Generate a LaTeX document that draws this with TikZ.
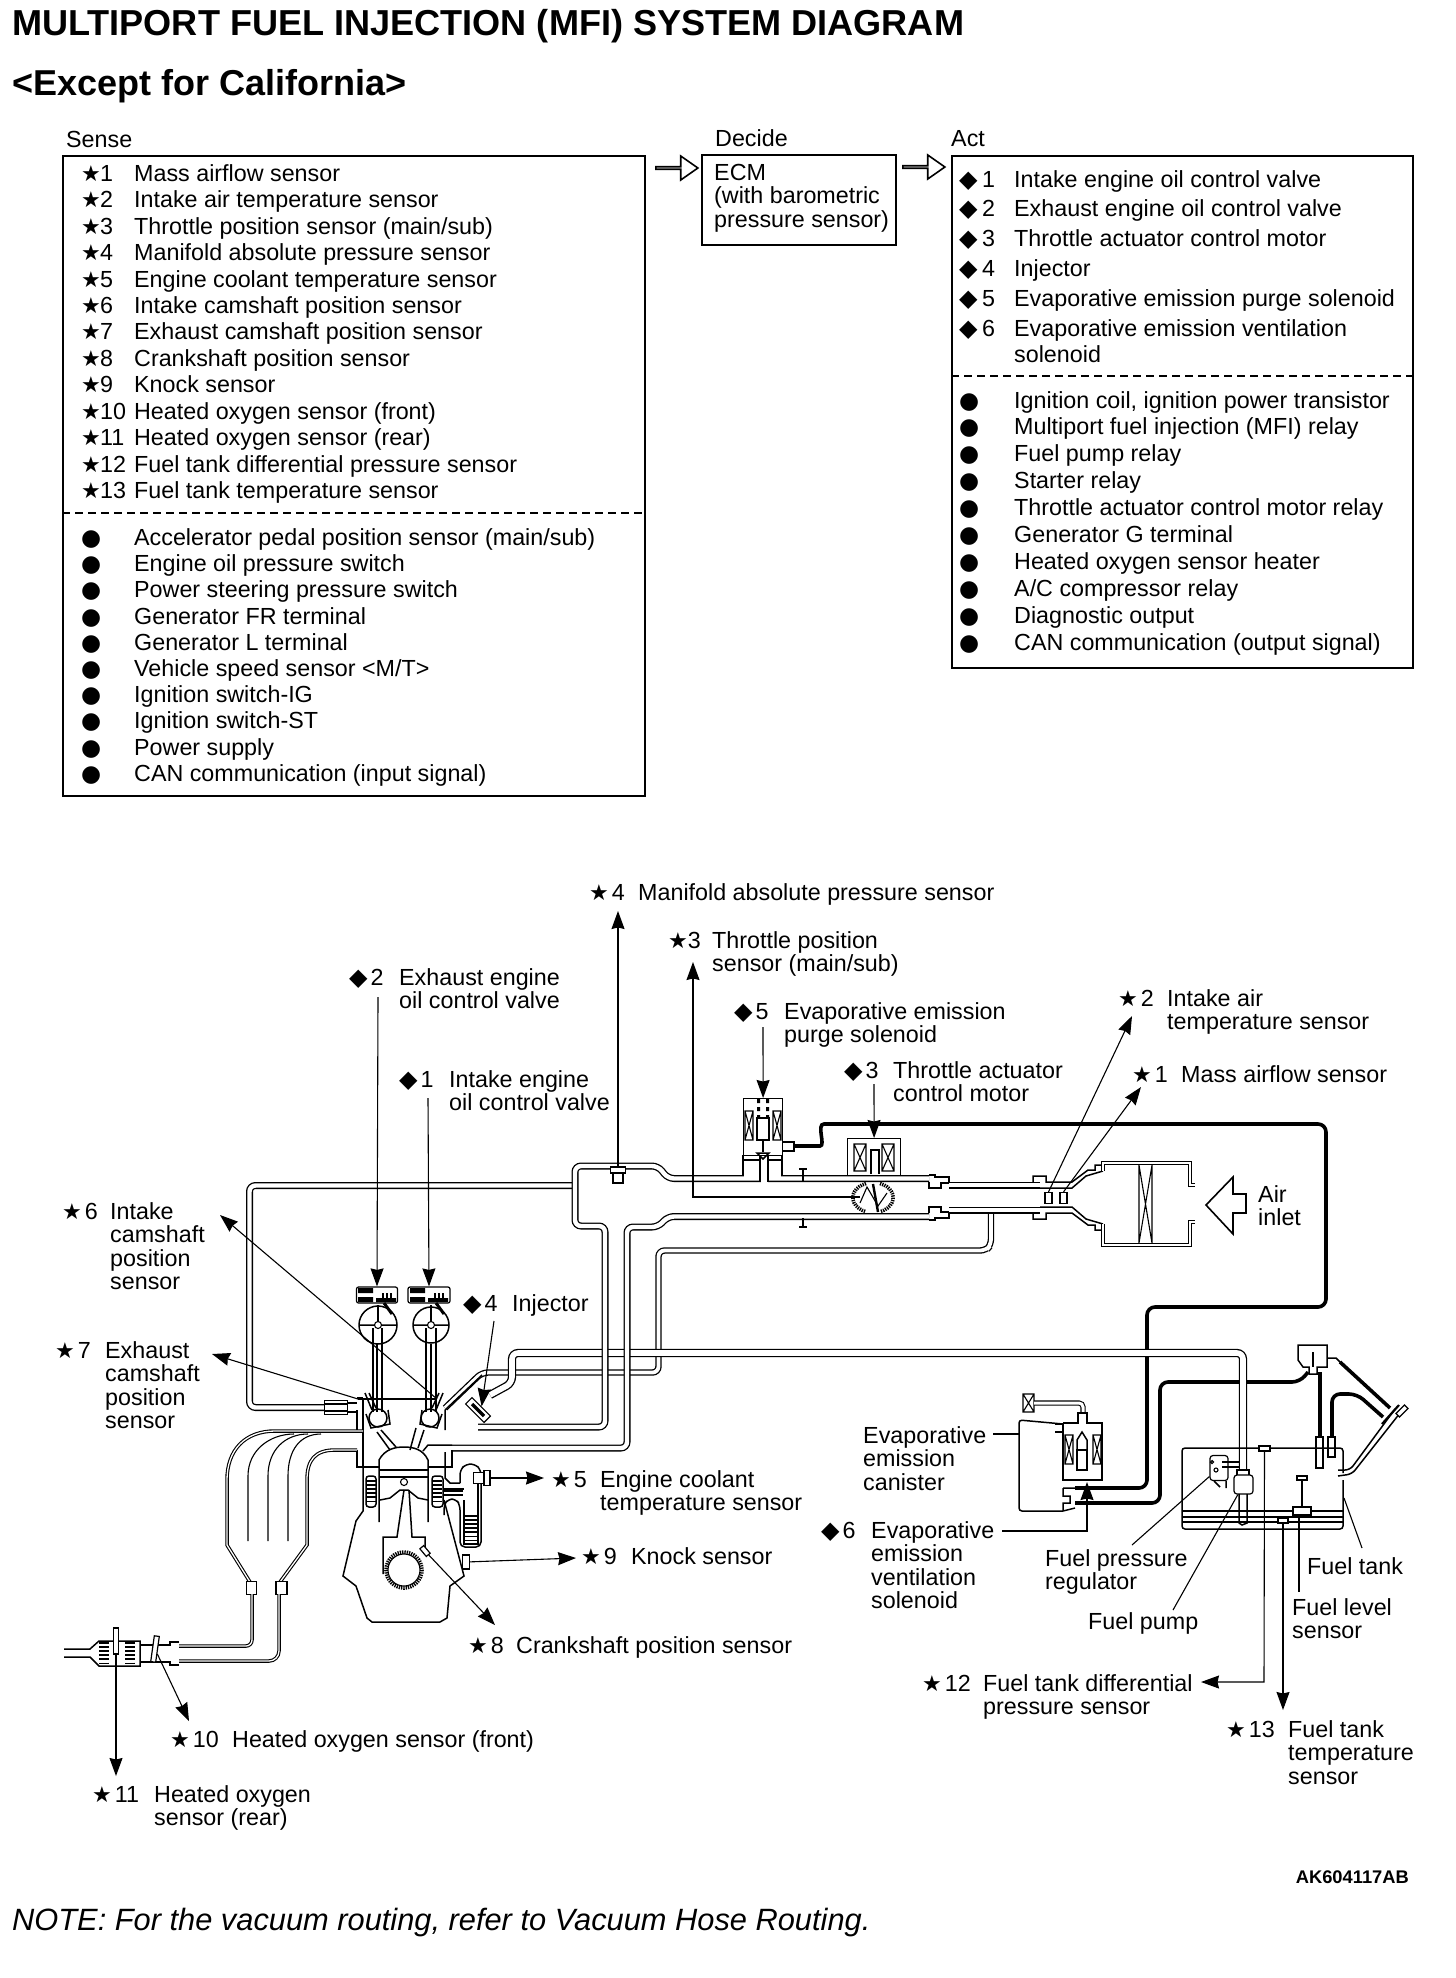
\documentclass[tikz,border=0pt]{standalone}
\usepackage{fontspec}
\setmainfont{Liberation Sans}
\newfontfamily\symfont{DejaVu Sans}
\usepackage{array}
\usetikzlibrary{arrows.meta,shapes.arrows}
\newcommand{\starmark}{{\symfont\fontsize{22}{22}\selectfont ★}}
\newcommand{\diamark}{{\symfont\fontsize{24}{24}\selectfont ◆}}
\newcommand{\dotmark}{{\symfont\fontsize{23}{23}\selectfont ●}}
\newcommand{\xcoil}[4]{\draw[thin line] (#1,#2) rectangle (#3,#4) (#1,#2)--(#3,#4) (#1,#4)--(#3,#2);}

\begin{document}
\begin{tikzpicture}[
    x=1pt, y=-1pt,
    frame/.style={draw, line width=1.8pt, anchor=north west, inner sep=0pt},
    rows/.style={anchor=north west, inner sep=0pt},
    head/.style={anchor=west, inner sep=0pt, font=\fontsize{23.3}{26}\selectfont},
    lab/.style={anchor=north west, inner sep=0pt, yshift=9pt, align=left, font=\fontsize{23.3}{23.6}\selectfont},
    tagmark/.style={lab, yshift=-1.5pt},
    hollow/.style={draw, fill=white, line width=1.6pt, single arrow, inner sep=0pt, single arrow head extend=7pt, single arrow tip angle=70, minimum width=24pt},
    thin line/.style={line width=1.1pt},
    wall/.style={line width=1.5pt},
    pipe/.style={double, double distance=4.4pt, line width=1.3pt, rounded corners=6pt},
    skin/.style={double, double distance=1.3pt, line width=1.1pt},
    hose/.style={line width=3.6pt, rounded corners=8pt},
    part/.style={draw, fill=white, line width=1.2pt, inner sep=0pt},
    lead/.style={-{Stealth[length=18pt,width=13pt,inset=1.5pt]}, line width=1.1pt},
    ribs/.style={line width=#1, dash pattern=on 1.5pt off 2.6pt},
    teeth/.style={line width=3.6pt, dash pattern=on 1.3pt off 1pt}
]
\useasboundingbox (0,0) rectangle (1456,1978);

% titles
\node[anchor=west, inner sep=0pt, font=\bfseries\fontsize{36.1}{38}\selectfont] (title) at (12,26) {MULTIPORT FUEL INJECTION (MFI) SYSTEM DIAGRAM};
\node[anchor=west, inner sep=0pt, font=\bfseries\fontsize{36}{38}\selectfont] (subtitle) at (12,86) {<Except for California>};
\node[head] (sensehead) at (66,139) {Sense};
\node[head] (decidehead) at (715,138) {Decide};
\node[head] (acthead) at (951,139) {Act};

% sense box
\node[frame, minimum width=582pt, minimum height=640pt] (sensebox) at (62,155) {};
\coordinate (sensel) at (62,513);
\coordinate (senser) at (644,513);
\draw[line width=1.6pt, dash pattern=on 8pt off 5pt] (sensel) -- (senser);
\node[rows, font=\fontsize{23.3}{26.45}\selectfont] (senseup) at (81,162.5) {\begin{tabular}{@{}p{19pt}@{}p{34pt}@{}l@{}}
\starmark&1&Mass airflow sensor\\
\starmark&2&Intake air temperature sensor\\
\starmark&3&Throttle position sensor (main/sub)\\
\starmark&4&Manifold absolute pressure sensor\\
\starmark&5&Engine coolant temperature sensor\\
\starmark&6&Intake camshaft position sensor\\
\starmark&7&Exhaust camshaft position sensor\\
\starmark&8&Crankshaft position sensor\\
\starmark&9&Knock sensor\\
\starmark&10&Heated oxygen sensor (front)\\
\starmark&11&Heated oxygen sensor (rear)\\
\starmark&12&Fuel tank differential pressure sensor\\
\starmark&13&Fuel tank temperature sensor
\end{tabular}};
\node[rows, font=\fontsize{23.3}{26.2}\selectfont] (senselow) at (81,527) {\begin{tabular}{@{}p{53pt}@{}l@{}}
\dotmark&Accelerator pedal position sensor (main/sub)\\
\dotmark&Engine oil pressure switch\\
\dotmark&Power steering pressure switch\\
\dotmark&Generator FR terminal\\
\dotmark&Generator L terminal\\
\dotmark&Vehicle speed sensor <M/T>\\
\dotmark&Ignition switch-IG\\
\dotmark&Ignition switch-ST\\
\dotmark&Power supply\\
\dotmark&CAN communication (input signal)
\end{tabular}};

% decide box
\node[frame, minimum width=194pt, minimum height=90pt] (ecmbox) at (701,154) {};
\node[rows, align=left, xshift=13pt, yshift=-10pt, font=\fontsize{23.3}{23.5}\selectfont] (ecmtext) at (ecmbox.north west) {ECM\\(with barometric\\pressure sensor)};

% act box
\node[frame, minimum width=461pt, minimum height=512pt] (actbox) at (951,155) {};
\coordinate (actl) at (951,376);
\coordinate (actr) at (1412,376);
\draw[line width=1.6pt, dash pattern=on 8pt off 5pt] (actl) -- (actr);
\node[rows, font=\fontsize{23.3}{29.8}\selectfont] (actup) at (959,166) {\begin{tabular}{@{}p{23pt}@{}p{32pt}@{}l@{}}
\diamark&1&Intake engine oil control valve\\
\diamark&2&Exhaust engine oil control valve\\
\diamark&3&Throttle actuator control motor\\
\diamark&4&Injector\\
\diamark&5&Evaporative emission purge solenoid\\
\diamark&6&Evaporative emission ventilation\\[-3.3pt]
&&solenoid
\end{tabular}};
\node[rows, font=\fontsize{23.3}{26.9}\selectfont] (actlow) at (959,389) {\begin{tabular}{@{}p{55pt}@{}l@{}}
\dotmark&Ignition coil, ignition power transistor\\
\dotmark&Multiport fuel injection (MFI) relay\\
\dotmark&Fuel pump relay\\
\dotmark&Starter relay\\
\dotmark&Throttle actuator control motor relay\\
\dotmark&Generator G terminal\\
\dotmark&Heated oxygen sensor heater\\
\dotmark&A/C compressor relay\\
\dotmark&Diagnostic output\\
\dotmark&CAN communication (output signal)
\end{tabular}};

\node[hollow, minimum height=42pt] (sensetoecm) at (676,168) {};
\node[hollow, minimum height=42pt] (ecmtoact) at (923,167) {};

% hoses and pipes
\draw[pipe] (575,1185.5) -- (249.5,1185.5) -- (249.5,1407.5) -- (325,1407.5);
\draw[hose] (794,1146) -- (812,1146) .. controls (826,1146) and (816,1124) .. (832,1124) -- (1326,1124) -- (1326,1307) -- (1147,1307) -- (1147,1488) -- (1075,1488);
\draw[hose] (1075,1503) -- (1160,1503) -- (1160,1382) -- (1300,1382) -- (1308,1372);
\draw[hose] (1320,1372) -- (1320,1437);
\draw[hose] (1332,1437) -- (1332,1394) -- (1357,1394) -- (1383,1417);
\draw[hose, rounded corners=0pt] (1340,1362) -- (1390,1408);
\draw[pipe, double distance=3.8pt] (445,1408) -- (482,1372.5) -- (658.5,1372.5) -- (658.5,1250.5) -- (986,1250.5) -- (991,1245) -- (991,1214);
\draw[pipe, double distance=5.6pt] (490,1395) -- (512,1383) -- (512,1353) -- (1243,1353) -- (1243,1470);
\draw[pipe] (478,1427) -- (605,1427) -- (605,1226) -- (575,1226) -- (575,1166) -- (658,1166) -- (668,1178.5) -- (929,1178.5);
\draw[pipe] (452,1448) -- (627,1448) -- (627,1227) -- (658,1227) -- (668,1216.5) -- (929,1216.5);
\draw[wall] (452,1445) -- (428,1445) -- (423,1451);
\draw[pipe] (949,1185) -- (1040,1185);
\draw[pipe] (949,1210) -- (1040,1210);

% throttle body and air cleaner
\draw[wall] (929,1182) -- (929,1188) -- (941,1188) -- (941,1183) -- (949,1183);
\draw[wall] (929,1175) -- (935,1175) -- (935,1177) -- (949,1177) -- (949,1182);
\draw[wall] (929,1213) -- (929,1207) -- (941,1207) -- (941,1212) -- (949,1212);
\draw[wall] (929,1220) -- (935,1220) -- (935,1218) -- (949,1218) -- (949,1213);
\draw[wall] (1033,1182) -- (1033,1176) -- (1046,1176) -- (1046,1182) -- (1072,1182) -- (1088,1170) -- (1095,1170) -- (1095,1165) -- (1101,1165);
\draw[wall] (1040,1188) -- (1072,1188) -- (1086,1176) -- (1103,1171);
\draw[wall] (1033,1213) -- (1033,1219) -- (1046,1219) -- (1046,1213) -- (1072,1213) -- (1088,1225) -- (1095,1225) -- (1095,1230) -- (1101,1230);
\draw[wall] (1040,1207) -- (1072,1207) -- (1086,1219) -- (1103,1224);
\draw[skin] (1195,1185) -- (1190,1185) -- (1190,1163) -- (1103,1163) -- (1103,1171);
\draw[skin] (1195,1222) -- (1190,1222) -- (1190,1245) -- (1103,1245) -- (1103,1224);
\draw[thin line] (1139,1165) -- (1139,1243) -- (1152,1165) -- (1152,1243) -- (1139,1165);
\node[part, minimum width=7pt, minimum height=11pt] (airtemp) at (1048.5,1198) {};
\node[part, minimum width=7pt, minimum height=11pt] (airflow) at (1063.5,1198) {};
\draw[wall, line width=1.6pt] (1206,1205) -- (1233,1177) -- (1233,1194) -- (1246,1194) -- (1246,1213) -- (1233,1213) -- (1233,1234) -- cycle;

% throttle valve
\draw[teeth] (866,1183.5) arc (250:110:20 and 15);
\draw[teeth] (880,1183.5) arc (-70:70:20 and 15);
\draw[thin line] (860,1203) -- (867,1187) -- (878,1206) -- (887,1193);
\draw[line width=2.4pt] (873,1184) -- (878,1212);

% purge solenoid
\fill[white] (744,1172.5) rectangle (781,1177.5);
\fill[white] (760.5,1172) rectangle (767.5,1185);
\node[part, minimum width=39pt, minimum height=57pt, anchor=north west, draw=black] (purge) at (743,1098) {};
\draw[wall] (743,1155) -- (743,1175) (782,1155) -- (782,1175);
\draw[wall] (743,1160) -- (760,1160) (768,1160) -- (782,1160);
\draw[wall] (760,1155) -- (760,1182) (768,1155) -- (768,1182);
\draw[wall] (782,1142) -- (794,1142) -- (794,1151) -- (782,1151);
\xcoil{745}{1111}{753}{1140}
\xcoil{773}{1111}{781}{1140}
\draw[wall] (757,1118) rectangle (769,1140);
\draw[thin line] (763,1140) -- (763,1152);
\draw[wall] (757,1153) -- (769,1153) -- (763,1159) -- cycle;
\fill (757,1099) rectangle (760,1103) (766,1099) rectangle (769,1103) (757,1107) rectangle (760,1111) (766,1107) rectangle (769,1111) (757,1115) rectangle (760,1118) (766,1115) rectangle (769,1118);

% throttle motor
\node[part, minimum width=53pt, minimum height=37pt, anchor=north west] (motor) at (847,1138) {};
\xcoil{854}{1144}{866}{1171}
\xcoil{882}{1144}{894}{1171}
\draw[wall] (871,1174) -- (871,1150) -- (879,1150) -- (879,1174);

% small nipples
\draw[thin line] (799,1169) -- (807,1169) (803,1169) -- (803,1181);
\draw[thin line] (799,1227) -- (807,1227) (803,1227) -- (803,1218);

% map sensor
\node[part, minimum width=15pt, minimum height=6pt] (mapport) at (618,1170) {};
\node[part, minimum width=10pt, minimum height=10pt] (mapbody) at (618,1178) {};

% engine oil control valves
\node[part, minimum width=41pt, minimum height=16pt, rounded corners=2pt] (ocvex) at (377,1295) {};
\node[part, minimum width=42pt, minimum height=16pt, rounded corners=2pt] (ocvin) at (429,1295) {};
\fill (358,1288) rectangle (373,1293) (358,1297) rectangle (373,1302) (410,1288) rectangle (425,1293) (410,1297) rectangle (425,1302);
\fill (376,1298) rectangle (396,1302) (428,1298) rectangle (448,1302);
\draw[ribs=8pt] (382,1297) -- (394,1297) (434,1297) -- (446,1297);
\draw[line width=3pt] (384,1303) -- (392,1314) (436,1303) -- (444,1314);

% camshafts and valves
\draw[wall] (378,1325) circle (19) (359,1325) -- (397,1325);
\draw[wall] (431,1325) circle (18) (413,1325) -- (449,1325);
\draw[thin line] (378,1305) -- (378,1325) (431,1305) -- (431,1325);
\draw[thin line, fill=white] (378,1325) circle (3.5) (431,1325) circle (3.5);
\draw[thin line] (373,1328) -- (373,1412) (382,1328) -- (382,1412) (377,1344) -- (377,1412);
\draw[thin line] (426,1328) -- (426,1412) (436,1328) -- (436,1412) (431,1344) -- (431,1412);
\draw[wall] (378,1418) circle (9) (430,1418) circle (9);
\draw[wall] (366,1414) -- (371,1428) -- (390,1424) -- (388,1410);
\draw[wall] (442,1414) -- (437,1428) -- (420,1424) -- (422,1410);
\draw[wall] (365,1393) -- (372,1410) (369,1393) -- (376,1408);
\draw[wall] (443,1393) -- (436,1410) (439,1393) -- (432,1408);
\draw[wall] (381,1430) -- (396,1447) (377,1432) -- (390,1450);
\draw[wall] (416,1428) -- (410,1450) (424,1430) -- (418,1448);

% cylinder head
\draw[wall] (363,1398) -- (363,1467) (357,1398) -- (363,1398) (357,1410) -- (357,1430);
\draw[wall] (357,1450) -- (357,1467) -- (379,1467);
\draw[wall] (428,1467) -- (452,1467) -- (452,1450);
\draw[wall] (445,1410) -- (445,1430) (445,1410) -- (482,1375);
\draw[wall] (445,1452) -- (445,1478) -- (450,1483) -- (460,1483);

% piston and block
\draw[wall] (379,1522) -- (379,1460) .. controls (385,1449) and (395,1447) .. (404,1447) .. controls (413,1447) and (423,1449) .. (428,1460) -- (428,1522);
\draw[wall] (379,1470) -- (428,1470) (379,1477) -- (428,1477);
\draw[wall] (380,1500) -- (390,1498) -- (400,1490) -- (408,1490) -- (418,1498) -- (428,1500);
\draw[thin line] (404,1482) circle (3.5);
\draw[wall] (404,1490) -- (397,1537) -- (383,1537) -- (383,1574);
\draw[wall] (409,1490) -- (412,1537) -- (425,1537) -- (425,1552);
\draw[wall] (363,1467) -- (363,1511) -- (356,1521) -- (343,1576) -- (356,1586) -- (367,1618) -- (372,1622) -- (440,1622) -- (447,1618) -- (450,1586) -- (464,1576) -- (449,1519) -- (444,1500);
\draw[wall, rounded corners=3pt] (366,1476) rectangle (376,1507) (432,1476) rectangle (443,1507);
\draw[ribs=9pt] (371,1480) -- (371,1504) (437.5,1480) -- (437.5,1504);
\draw[teeth] (404,1570) circle (18);
\draw[thin line] (404,1570) circle (16);
\draw[wall, rounded corners=5pt] (460,1483) -- (460,1470) -- (466,1464) -- (475,1464) -- (481,1470) -- (481,1547) -- (460,1547) -- (460,1505) -- (456,1499) -- (448,1499) -- (444,1505) -- (444,1515);
\draw[wall] (464,1500) -- (464,1544) -- (478,1544) -- (478,1483);
\draw[wall] (443,1489) -- (464,1489);
\draw[ribs=20pt] (453,1490) -- (453,1498);
\draw[ribs=12pt] (471,1515) -- (471,1543);
\node[part, minimum width=11pt, minimum height=11pt] (coolant) at (479,1478) {};
\node[part, minimum width=6pt, minimum height=15pt] (coolcap) at (487,1478) {};
\node[part, minimum width=7pt, minimum height=14pt] (knock) at (466,1562) {};
\node[part, minimum width=10pt, minimum height=5pt, rotate=-50] (crank) at (425,1551) {};

% exhaust manifold and catalyst
\draw[skin] (363,1431) -- (275,1431) .. controls (245,1431) and (227,1450) .. (227,1480) -- (227,1545) -- (250,1582);
\draw[skin] (357,1450) -- (335,1450) .. controls (315,1450) and (307,1460) .. (307,1480) -- (307,1545) -- (280,1582);
\draw[thin line] (248,1541) -- (248,1476) .. controls (248,1450) and (270,1434) .. (294,1434);
\draw[thin line] (268,1541) -- (268,1476) .. controls (268,1450) and (285,1434) .. (308,1434);
\draw[thin line] (288,1541) -- (288,1476) .. controls (288,1450) and (300,1434) .. (321,1434);
\node[part, minimum width=10pt, minimum height=13pt] (collarl) at (251.5,1588) {};
\node[part, minimum width=11pt, minimum height=13pt] (collarr) at (281.5,1588) {};
\draw[skin, rounded corners=6pt] (252,1594) -- (252,1646) -- (179,1646);
\draw[skin, rounded corners=10pt] (279,1594) -- (279,1661) -- (179,1661);
\draw[wall] (179,1642) -- (170,1642) -- (170,1645) -- (140,1645) (179,1665) -- (170,1665) -- (170,1662) -- (140,1662);
\draw[wall] (64,1649) -- (90,1649) -- (99,1641) -- (140,1641) -- (140,1666) -- (99,1666) -- (90,1657) -- (64,1657);
\draw[ribs=10pt] (104,1642) -- (104,1665) (129.5,1642) -- (129.5,1665);
\node[part, minimum width=5pt, minimum height=26pt] (rearo2) at (116,1641) {};
\node[part, minimum width=5pt, minimum height=26pt, rotate=-8] (fronto2) at (155,1649) {};
\node[part, minimum width=23pt, minimum height=14pt] (exhcam) at (336,1407.5) {};
\draw[thin line] (325,1404) -- (347,1404) (325,1411) -- (347,1411);
\draw[wall] (347,1403) -- (357,1403) (347,1412) -- (357,1412);

% injector
\node[part, minimum width=26pt, minimum height=9pt, rotate=-45] (injector) at (478,1410) {};
\draw[line width=3.5pt] (472,1404) -- (484,1416);

% canister and ventilation solenoid
\xcoil{1023}{1394}{1034}{1412}
\draw[skin, double distance=3pt, rounded corners=4pt] (1034,1403) -- (1083,1403) -- (1083,1413);
\draw[wall, rounded corners=3pt] (1063,1424) -- (1019,1420) -- (1019,1511) -- (1063,1511);
\draw[wall] (1063,1423) -- (1078,1423) -- (1078,1413) -- (1087,1413) -- (1087,1423) -- (1102,1423) -- (1102,1480) -- (1063,1480) -- (1063,1423);
\draw[wall] (1055,1424) -- (1063,1424) (1055,1432) -- (1063,1432);
\draw[wall] (1063,1488) -- (1075,1488) (1063,1488) -- (1063,1496) -- (1070,1496) -- (1070,1503) -- (1063,1503) -- (1063,1511) (1063,1511) -- (1075,1508);
\xcoil{1065}{1435}{1073}{1464}
\xcoil{1093}{1435}{1101}{1464}
\draw[wall] (1077,1450) rectangle (1087,1470);
\draw[wall] (1077,1450) -- (1077,1440) -- (1082,1432) -- (1087,1440) -- (1087,1450);

% fuel tank
\draw[wall, rounded corners=3pt] (1343,1473) -- (1343,1448) -- (1182,1448) -- (1182,1529) -- (1343,1529) -- (1343,1480);
\draw[line width=1.8pt] (1182,1511) -- (1343,1511);
\draw[wall] (1182,1517) -- (1343,1517) (1182,1522) -- (1343,1522);
\node[part, minimum width=19pt, minimum height=19pt, rounded corners=3pt] (pump) at (1243.5,1484.5) {};
\draw[wall] (1239,1494) -- (1239,1523) -- (1242,1525) -- (1247,1523) -- (1247,1494);
\draw[wall] (1237,1475) -- (1237,1470) -- (1249,1470) -- (1249,1475);
\node[part, minimum width=18pt, minimum height=25pt, rounded corners=3pt] (regulator) at (1219,1468) {};
\draw[thin line] (1222,1462) -- (1240,1462) (1222,1467) -- (1240,1467);
\draw[thin line] (1216,1470) circle (2) (1212,1462) circle (1.5);
\draw[wall] (1214,1481) -- (1220,1487) (1226,1481) -- (1226,1488);
\node[part, minimum width=11pt, minimum height=5pt] (diffport) at (1264.5,1448.5) {};
\node[part, minimum width=10pt, minimum height=5pt] (tempport) at (1283,1520.5) {};
\node[part, minimum width=18pt, minimum height=8pt] (levelunit) at (1302,1511) {};
\node[part, minimum width=10pt, minimum height=4pt] (levelfloat) at (1302,1478) {};
\draw[thin line] (levelfloat) -- (levelunit);
\draw[wall] (1316,1437) rectangle (1323,1468);
\draw[wall] (1328,1437) rectangle (1335,1457);
\draw[wall] (1298,1345) -- (1327,1345) -- (1327,1367) -- (1317,1367) -- (1317,1374) -- (1309,1374) -- (1309,1367) -- (1303,1367) -- (1298,1360) -- cycle;
\draw[thin line] (1313,1352) -- (1313,1367);
\draw[wall] (1327,1358) -- (1336,1358) -- (1343,1365);
\draw[wall, rounded corners=5pt] (1338,1470) -- (1350,1470) -- (1395,1409);
\draw[wall, rounded corners=5pt] (1338,1476) -- (1352,1474) -- (1400,1413);
\draw[line width=2.2pt] (1382,1424) -- (1399,1405);
\node[part, minimum width=12pt, minimum height=5pt, rotate=45] (fillcap) at (1402,1411) {};

% leaders
\coordinate (maptip) at (618,911);
\coordinate (tpstip) at (693,962);
\coordinate (tpscorner) at (693,1197);
\coordinate (tpsend) at (860,1197);
\coordinate (ocvextop) at (378,997);
\coordinate (ocvintop) at (428,1098);
\coordinate (purgetop) at (763,1027);
\coordinate (motortop) at (874,1084);
\coordinate (temptip) at (1132,1016);
\coordinate (flowtip) at (1141,1087);
\coordinate (intip) at (220,1215);
\coordinate (intail) at (437,1399);
\coordinate (extip) at (212,1354);
\coordinate (extail) at (358,1399);
\coordinate (injtop) at (494,1321);
\coordinate (cooltip) at (544,1478);
\coordinate (knocktip) at (576,1558);
\coordinate (cranktip) at (495,1625);
\coordinate (fronttip) at (189,1721);
\coordinate (reartip) at (116,1776);
\coordinate (difftip) at (1201,1682);
\coordinate (diffcorner) at (1264,1682);
\coordinate (temp13tip) at (1283,1710);
\coordinate (canstart) at (993,1434);
\coordinate (canend) at (1019,1434);
\coordinate (ventstart) at (1002,1531);
\coordinate (ventcorner) at (1087,1531);
\coordinate (venttip) at (1087,1482);
\coordinate (reglabel) at (1132,1545);
\coordinate (pumplabel) at (1173,1610);
\coordinate (tankpoint) at (1344,1498);
\coordinate (tanklabel) at (1362,1548);
\coordinate (levellabel) at (1299,1592);

\draw[lead] (mapport) -- (maptip);
\draw[lead] (tpsend) -- (tpscorner) -- (tpstip);
\draw[lead] (ocvextop) -- (ocvex.north);
\draw[lead] (ocvintop) -- (ocvin.north);
\draw[lead] (purgetop) -- (purge.north);
\draw[lead] (motortop) -- (motor.north);
\draw[lead] (airtemp.north) -- (temptip);
\draw[lead] (airflow.north) -- (flowtip);
\draw[lead] (intail) -- (intip);
\draw[thin line] (extail) -- (intail);
\draw[lead] (extail) -- (extip);
\draw[lead] (injtop) -- (injector.north);
\draw[lead] (coolcap) -- (cooltip);
\draw[lead] (knock) -- (knocktip);
\draw[lead] (crank) -- (cranktip);
\draw[lead] (fronto2) -- (fronttip);
\draw[lead] (rearo2) -- (reartip);
\draw[lead] (diffport) -- (diffcorner) -- (difftip);
\draw[lead] (tempport) -- (temp13tip);
\draw[thin line] (canstart) -- (canend);
\draw[lead] (ventstart) -- (ventcorner) -- (venttip);
\draw[thin line] (regulator) -- (reglabel);
\draw[thin line] (pump) -- (pumplabel);
\draw[thin line] (tankpoint) -- (tanklabel);
\draw[thin line] (levelunit.south -| levellabel) -- (levellabel);

% labels
\node[tagmark] (k4) at (589,892) {\starmark\hspace{3pt}4};
\node[lab] (t4) at (638,892) {Manifold absolute pressure sensor};
\node[tagmark] (k3) at (668,940) {\starmark\hspace{0pt}3};
\node[lab] (t3) at (712,940) {Throttle position\\sensor (main/sub)};
\node[tagmark] (k2d) at (349,977) {\diamark\hspace{3pt}2};
\node[lab] (t2d) at (399,977) {Exhaust engine\\oil control valve};
\node[tagmark] (k5d) at (734,1011) {\diamark\hspace{3pt}5};
\node[lab] (t5d) at (784,1011) {Evaporative emission\\purge solenoid};
\node[tagmark] (k2) at (1118,998) {\starmark\hspace{3pt}2};
\node[lab] (t2) at (1167,998) {Intake air\\temperature sensor};
\node[tagmark] (k3d) at (844,1070) {\diamark\hspace{3pt}3};
\node[lab] (t3d) at (893,1070) {Throttle actuator\\control motor};
\node[tagmark] (k1) at (1132,1074) {\starmark\hspace{3pt}1};
\node[lab] (t1) at (1181,1074) {Mass airflow sensor};
\node[tagmark] (k1d) at (399,1079) {\diamark\hspace{3pt}1};
\node[lab] (t1d) at (449,1079) {Intake engine\\oil control valve};
\node[tagmark] (k6) at (62,1211) {\starmark\hspace{3pt}6};
\node[lab] (t6) at (110,1211) {Intake\\camshaft\\position\\sensor};
\node[tagmark] (k4d) at (463,1303) {\diamark\hspace{3pt}4};
\node[lab] (t4d) at (512,1303) {Injector};
\node[tagmark] (k7) at (55,1350) {\starmark\hspace{3pt}7};
\node[lab] (t7) at (105,1350) {Exhaust\\camshaft\\position\\sensor};
\node[tagmark] (k5) at (551,1479) {\starmark\hspace{3pt}5};
\node[lab] (t5) at (600,1479) {Engine coolant\\temperature sensor};
\node[tagmark] (k9) at (581,1556) {\starmark\hspace{3pt}9};
\node[lab] (t9) at (631,1556) {Knock sensor};
\node[tagmark] (k8) at (468,1645) {\starmark\hspace{3pt}8};
\node[lab] (t8) at (516,1645) {Crankshaft position sensor};
\node[tagmark] (k10) at (170,1739) {\starmark\hspace{3pt}10};
\node[lab] (t10) at (232,1739) {Heated oxygen sensor (front)};
\node[tagmark] (k11) at (92,1794) {\starmark\hspace{3pt}11};
\node[lab] (t11) at (154,1794) {Heated oxygen\\sensor (rear)};
\node[tagmark] (k12) at (922,1683) {\starmark\hspace{3pt}12};
\node[lab] (t12) at (983,1683) {Fuel tank differential\\pressure sensor};
\node[tagmark] (k13) at (1226,1729) {\starmark\hspace{3pt}13};
\node[lab] (t13) at (1288,1729) {Fuel tank\\temperature\\sensor};
\node[lab] (tcan) at (863,1435) {Evaporative\\emission\\canister};
\node[tagmark] (k6d) at (821,1530) {\diamark\hspace{3pt}6};
\node[lab] (t6d) at (871,1530) {Evaporative\\emission\\ventilation\\solenoid};
\node[lab] (treg) at (1045,1558) {Fuel pressure\\regulator};
\node[lab] (tpump) at (1088,1621) {Fuel pump};
\node[lab] (ttank) at (1307,1566) {Fuel tank};
\node[lab] (tlevel) at (1292,1607) {Fuel level\\sensor};
\node[lab] (tair) at (1258,1194) {Air\\inlet};

\node[anchor=east, inner sep=0pt, font=\bfseries\fontsize{18.3}{20}\selectfont] (code) at (1409,1877) {AK604117AB};
\node[anchor=west, inner sep=0pt, font=\itshape\fontsize{30.8}{32}\selectfont] (note) at (12,1923) {NOTE: For the vacuum routing, refer to Vacuum Hose Routing.};
\end{tikzpicture}
\end{document}
